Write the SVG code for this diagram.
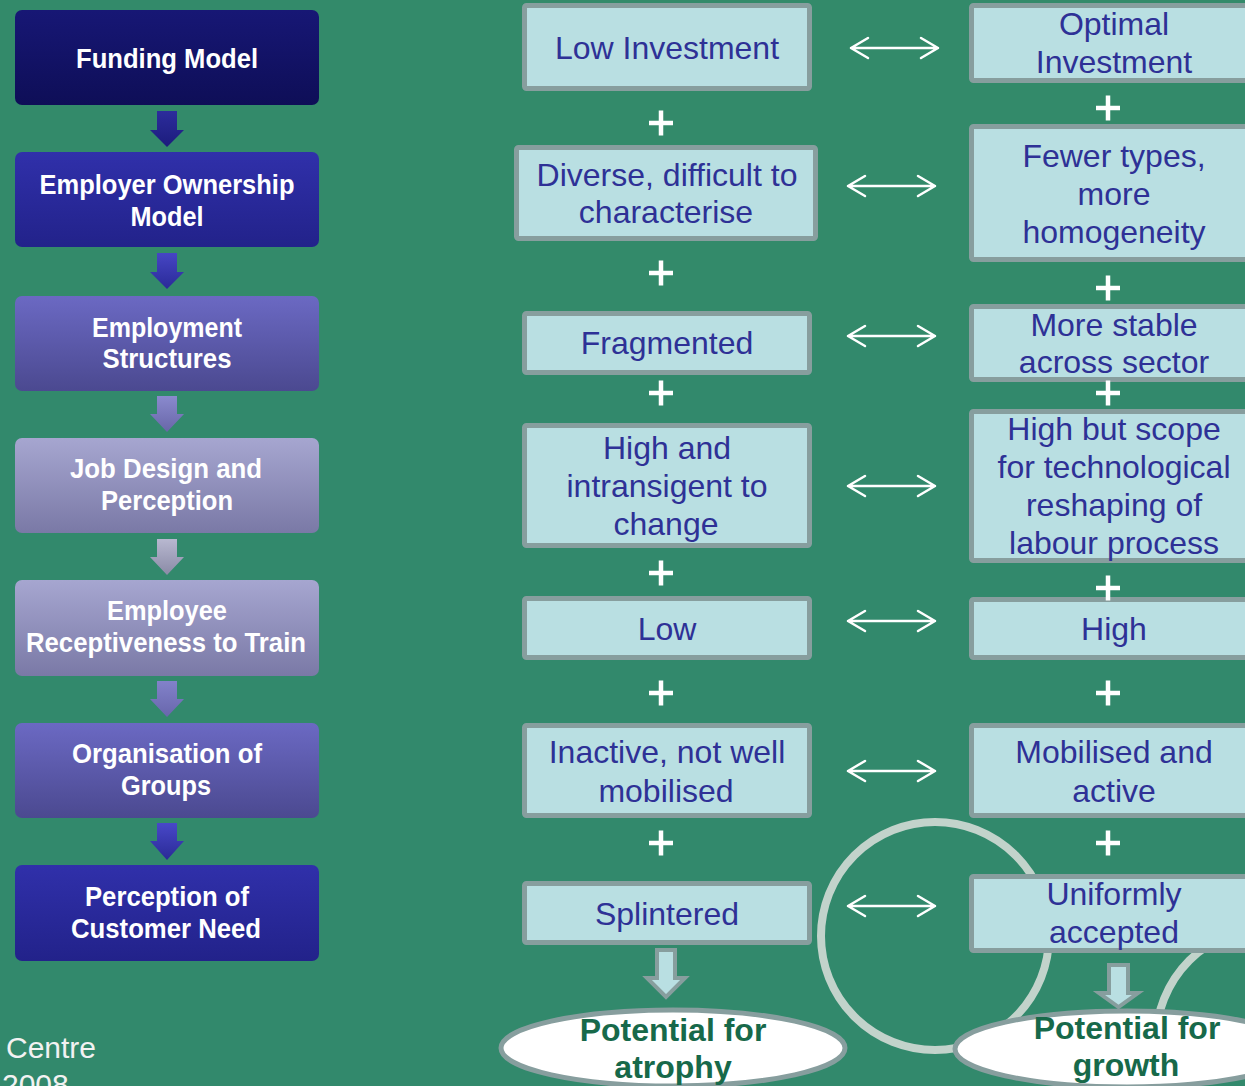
<svg xmlns="http://www.w3.org/2000/svg" width="1245" height="1086" viewBox="0 0 1245 1086">
<defs>
<linearGradient id="g1" x1="0" y1="0" x2="0" y2="1"><stop offset="0" stop-color="#171775"/><stop offset="1" stop-color="#0e0e57"/></linearGradient>
<linearGradient id="g2" x1="0" y1="0" x2="0" y2="1"><stop offset="0" stop-color="#3030aa"/><stop offset="1" stop-color="#22228a"/></linearGradient>
<linearGradient id="g3" x1="0" y1="0" x2="0" y2="1"><stop offset="0" stop-color="#6b69c3"/><stop offset="1" stop-color="#4b4990"/></linearGradient>
<linearGradient id="g4" x1="0" y1="0" x2="0" y2="1"><stop offset="0" stop-color="#a6a6d0"/><stop offset="1" stop-color="#7a79a6"/></linearGradient>
<linearGradient id="a1" x1="0" y1="0" x2="0" y2="1"><stop offset="0" stop-color="#2c2c9c"/><stop offset="1" stop-color="#1c1c7c"/></linearGradient>
<linearGradient id="a2" x1="0" y1="0" x2="0" y2="1"><stop offset="0" stop-color="#4646c4"/><stop offset="1" stop-color="#2a2a98"/></linearGradient>
<linearGradient id="a3" x1="0" y1="0" x2="0" y2="1"><stop offset="0" stop-color="#8a8ace"/><stop offset="1" stop-color="#6866a8"/></linearGradient>
<linearGradient id="a4" x1="0" y1="0" x2="0" y2="1"><stop offset="0" stop-color="#b8b8d0"/><stop offset="1" stop-color="#8a8aa6"/></linearGradient>
<linearGradient id="a5" x1="0" y1="0" x2="0" y2="1"><stop offset="0" stop-color="#8282ca"/><stop offset="1" stop-color="#6866ac"/></linearGradient>
<linearGradient id="a6" x1="0" y1="0" x2="0" y2="1"><stop offset="0" stop-color="#4848c8"/><stop offset="1" stop-color="#2a2a96"/></linearGradient>
<path id="plus" d="M-12,0H12M0,-12.5V12.5" stroke="#ffffff" stroke-width="4.5" fill="none"/>
<path id="dbl" d="M1,0H88M18,-10L1,0L18,10M71,-10L88,0L71,10" stroke="#ffffff" stroke-width="2.5" fill="none" stroke-linecap="round" stroke-linejoin="round"/>
</defs>
<style>
.lt{font-family:"Liberation Sans",Arial,sans-serif;font-weight:bold;font-size:28px;fill:#ffffff;text-anchor:middle}
.lb{stroke:none}
.bx{fill:#b9dfe2;stroke:#879e9e;stroke-width:5}
.bt{font-family:"Liberation Sans",Arial,sans-serif;font-size:32px;fill:#2e3196;text-anchor:middle}
.el{fill:#ffffff;stroke:#879e9e;stroke-width:5}
.et{font-family:"Liberation Sans",Arial,sans-serif;font-weight:bold;font-size:32px;fill:#17694a;text-anchor:middle}
.ha{fill:#b9dfe2;stroke:#879e9e;stroke-width:4;stroke-linejoin:miter}
.ring{fill:none;stroke:#c2d3cb;stroke-width:8}
.foot{font-family:"Liberation Sans",Arial,sans-serif;font-size:30px;fill:#f2f2f2}
</style>
<rect x="0" y="0" width="1245" height="1086" fill="#338a6a"/>
<rect x="0" y="340" width="1245" height="746" fill="#32896c"/>

<g id="decor">
<circle class="ring" cx="935" cy="936" r="114"/>
<circle class="ring" cx="1270" cy="1041" r="114"/>
</g>

<g id="left-1"><rect class="lb" x="15" y="10" width="304" height="95" rx="7" fill="url(#g1)"/><text class="lt" x="167" y="68" textLength="182" lengthAdjust="spacingAndGlyphs">Funding Model</text></g>
<g id="left-2"><rect class="lb" x="15" y="152" width="304" height="95" rx="7" fill="url(#g2)"/><text class="lt" x="167" y="194" textLength="255" lengthAdjust="spacingAndGlyphs">Employer Ownership</text><text class="lt" x="167" y="226" textLength="73" lengthAdjust="spacingAndGlyphs">Model</text></g>
<g id="left-3"><rect class="lb" x="15" y="296" width="304" height="95" rx="7" fill="url(#g3)"/><text class="lt" x="167" y="337" textLength="150" lengthAdjust="spacingAndGlyphs">Employment</text><text class="lt" x="167" y="368" textLength="129" lengthAdjust="spacingAndGlyphs">Structures</text></g>
<g id="left-4"><rect class="lb" x="15" y="438" width="304" height="95" rx="7" fill="url(#g4)"/><text class="lt" x="166" y="478" textLength="192" lengthAdjust="spacingAndGlyphs">Job Design and</text><text class="lt" x="167" y="510" textLength="132" lengthAdjust="spacingAndGlyphs">Perception</text></g>
<g id="left-5"><rect class="lb" x="15" y="580" width="304" height="96" rx="7" fill="url(#g4)"/><text class="lt" x="167" y="620" textLength="120" lengthAdjust="spacingAndGlyphs">Employee</text><text class="lt" x="166" y="652" textLength="280" lengthAdjust="spacingAndGlyphs">Receptiveness to Train</text></g>
<g id="left-6"><rect class="lb" x="15" y="723" width="304" height="95" rx="7" fill="url(#g3)"/><text class="lt" x="167" y="763" textLength="190" lengthAdjust="spacingAndGlyphs">Organisation of</text><text class="lt" x="166" y="795" textLength="90" lengthAdjust="spacingAndGlyphs">Groups</text></g>
<g id="left-7"><rect class="lb" x="15" y="865" width="304" height="96" rx="7" fill="url(#g2)"/><text class="lt" x="167" y="906" textLength="164" lengthAdjust="spacingAndGlyphs">Perception of</text><text class="lt" x="166" y="938" textLength="190" lengthAdjust="spacingAndGlyphs">Customer Need</text></g>

<g id="mid-1"><rect class="bx" x="524.5" y="5.5" width="285" height="83" rx="2"/><text class="bt" x="667" y="59">Low Investment</text></g>
<g id="mid-2"><rect class="bx" x="516.5" y="147.5" width="299" height="91" rx="2"/><text class="bt" x="667" y="186">Diverse, difficult to</text><text class="bt" x="666" y="223">characterise</text></g>
<g id="mid-3"><rect class="bx" x="524.5" y="313.5" width="285" height="59" rx="2"/><text class="bt" x="667" y="354">Fragmented</text></g>
<g id="mid-4"><rect class="bx" x="524.5" y="425.5" width="285" height="120" rx="2"/><text class="bt" x="667" y="459">High and</text><text class="bt" x="667" y="497">intransigent to</text><text class="bt" x="666" y="535">change</text></g>
<g id="mid-5"><rect class="bx" x="524.5" y="598.5" width="285" height="59" rx="2"/><text class="bt" x="667" y="640">Low</text></g>
<g id="mid-6"><rect class="bx" x="524.5" y="725.5" width="285" height="90" rx="2"/><text class="bt" x="667" y="763">Inactive, not well</text><text class="bt" x="666" y="802">mobilised</text></g>
<g id="mid-7"><rect class="bx" x="524.5" y="883.5" width="285" height="59" rx="2"/><text class="bt" x="667" y="925">Splintered</text></g>

<g id="right-1"><rect class="bx" x="971.5" y="5.5" width="290" height="75" rx="2"/><text class="bt" x="1114" y="35">Optimal</text><text class="bt" x="1114" y="73">Investment</text></g>
<g id="right-2"><rect class="bx" x="971.5" y="126.5" width="290" height="133" rx="2"/><text class="bt" x="1114" y="167">Fewer types,</text><text class="bt" x="1114" y="205">more</text><text class="bt" x="1114" y="243">homogeneity</text></g>
<g id="right-3"><rect class="bx" x="971.5" y="306.5" width="290" height="73" rx="2"/><text class="bt" x="1114" y="336">More stable</text><text class="bt" x="1114" y="373">across sector</text></g>
<g id="right-4"><rect class="bx" x="971.5" y="411.5" width="290" height="149" rx="2"/><text class="bt" x="1114" y="440">High but scope</text><text class="bt" x="1114" y="478">for technological</text><text class="bt" x="1114" y="516">reshaping of</text><text class="bt" x="1114" y="554">labour process</text></g>
<g id="right-5"><rect class="bx" x="971.5" y="599.5" width="290" height="58" rx="2"/><text class="bt" x="1114" y="640">High</text></g>
<g id="right-6"><rect class="bx" x="971.5" y="725.5" width="290" height="90" rx="2"/><text class="bt" x="1114" y="763">Mobilised and</text><text class="bt" x="1114" y="802">active</text></g>
<g id="right-7"><rect class="bx" x="971.5" y="876.5" width="290" height="74" rx="2"/><text class="bt" x="1114" y="905">Uniformly</text><text class="bt" x="1114" y="943">accepted</text></g>

<g id="outcome-atrophy"><ellipse class="el" cx="673" cy="1048" rx="172" ry="38"/><text class="et" x="673" y="1041">Potential for</text><text class="et" x="673" y="1078">atrophy</text></g>
<g id="outcome-growth"><ellipse class="el" cx="1127" cy="1049" rx="172" ry="38"/><text class="et" x="1127" y="1039">Potential for</text><text class="et" x="1126" y="1076">growth</text></g>

<g id="connectors">
<path d="M157,111V130H150L167,147L184,130H177V111Z" fill="url(#a1)"/>
<path d="M157,253V272H150L167,289L184,272H177V253Z" fill="url(#a2)"/>
<path d="M157,396V414H150L167,432L184,414H177V396Z" fill="url(#a3)"/>
<path d="M157,539V557H150L167,575L184,557H177V539Z" fill="url(#a4)"/>
<path d="M157,681V699H150L167,717L184,699H177V681Z" fill="url(#a5)"/>
<path d="M157,823V841H150L167,860L184,841H177V823Z" fill="url(#a6)"/>
<use href="#dbl" x="850" y="48"/>
<use href="#dbl" x="847" y="186"/>
<use href="#dbl" x="847" y="336"/>
<use href="#dbl" x="847" y="486"/>
<use href="#dbl" x="847" y="621"/>
<use href="#dbl" x="847" y="771"/>
<use href="#dbl" x="847" y="906"/>
<path class="ha" d="M657,950V978H647L666,997L685,978H675V950Z"/>
<path class="ha" d="M1109,965V993H1099L1118.5,1007L1138,993H1128V965Z"/>
<use href="#plus" x="661" y="123"/>
<use href="#plus" x="661" y="273"/>
<use href="#plus" x="661" y="393"/>
<use href="#plus" x="661" y="573"/>
<use href="#plus" x="661" y="693"/>
<use href="#plus" x="661" y="843"/>
<use href="#plus" x="1108" y="108"/>
<use href="#plus" x="1108" y="288"/>
<use href="#plus" x="1108" y="393"/>
<use href="#plus" x="1108" y="588"/>
<use href="#plus" x="1108" y="693"/>
<use href="#plus" x="1108" y="843"/>
</g>

<text class="foot" x="6" y="1058">Centre</text>
<text class="foot" x="2" y="1095">2008</text>
</svg>
